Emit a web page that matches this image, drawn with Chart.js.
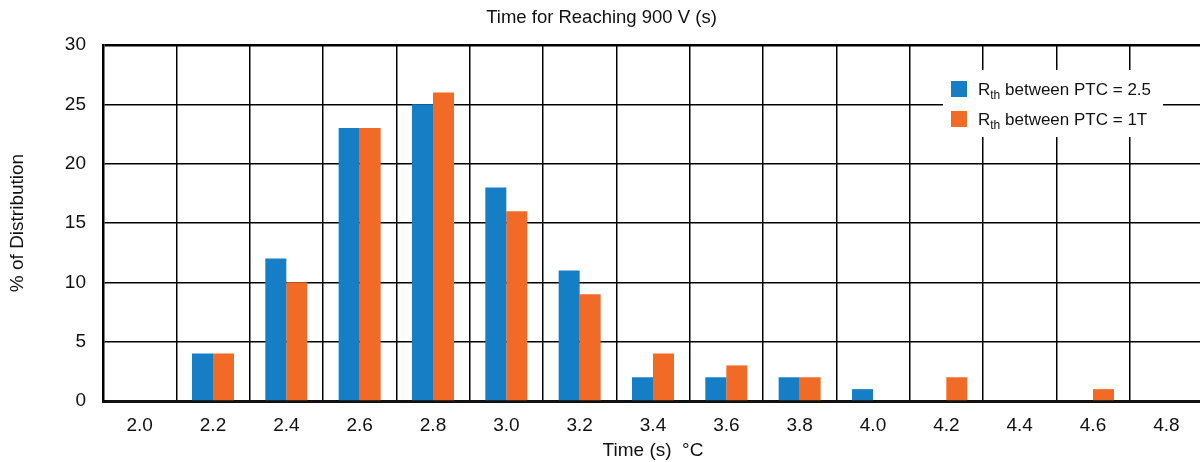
<!DOCTYPE html>
<html>
<head>
<meta charset="utf-8">
<script src="https://cdn.jsdelivr.net/npm/chart.js@4/dist/chart.umd.min.js"></script>
<style>
  html, body { margin: 0; padding: 0; background: #fff; overflow: hidden; }
  #wrap { width: 1205px; height: 462px; position: relative; }
</style>
</head>
<body>
<div id="wrap"><canvas id="c"></canvas></div>
<script>
const categories = ['2.0','2.2','2.4','2.6','2.8','3.0','3.2','3.4','3.6','3.8','4.0','4.2','4.4','4.6','4.8'];
const seriesA = [0, 4, 12, 23, 25, 18, 11, 2, 2, 2, 1, 0, 0, 0, 0];
const seriesB = [0, 4, 10, 23, 26, 16, 9, 4, 3, 2, 0, 2, 0, 1, 0];
const seriesNames = ['Rth between PTC = 2.5', 'Rth between PTC = 1T'];
const legendValues = ['2.5', '1T'];
const yTicks = [0, 5, 10, 15, 20, 25, 30];

const BLUE = '#167ec4';
const ORANGE = '#f16b27';
const FONT = 'Liberation Sans, Arial, Helvetica, sans-serif';

const legendPlugin = {
  id: 'subLegend',
  afterDraw(chart) {
    const ctx = chart.ctx;
    ctx.save();
    ctx.fillStyle = '#fff';
    ctx.fillRect(943, 70, 220, 67);
    const colors = [BLUE, ORANGE];
    for (let i = 0; i < 2; i++) {
      const y = 81 + i * 30;
      ctx.fillStyle = colors[i];
      ctx.fillRect(951, y, 16, 16);
      ctx.fillStyle = '#111';
      ctx.textBaseline = 'alphabetic';
      ctx.font = '17px ' + FONT;
      let x = 978;
      const base = y + 14;
      ctx.fillText('R', x, base);
      x += ctx.measureText('R').width;
      ctx.font = '12px ' + FONT;
      ctx.fillText('th', x, base + 4);
      x += ctx.measureText('th').width;
      ctx.font = '17px ' + FONT;
      ctx.fillText(' between PTC = ' + legendValues[i], x, base);
    }
    ctx.restore();
  }
};

new Chart(document.getElementById('c'), {
  type: 'bar',
  data: {
    labels: categories,
    datasets: [
      { label: seriesNames[0], data: seriesA, backgroundColor: BLUE, barPercentage: 1.0, categoryPercentage: 0.573 },
      { label: seriesNames[1], data: seriesB, backgroundColor: ORANGE, barPercentage: 1.0, categoryPercentage: 0.573 }
    ]
  },
  options: {
    responsive: true,
    maintainAspectRatio: false,
    animation: false,
    layout: { padding: { left: 0, right: 2, top: 0, bottom: 0 } },
    plugins: {
      legend: { display: false },
      tooltip: { enabled: false },
      title: {
        display: true,
        text: 'Time for Reaching 900 V (s)',
        color: '#111',
        font: { family: FONT, size: 18.5, weight: 'normal' },
        padding: { top: 7, bottom: 15.8 }
      }
    },
    scales: {
      x: {
        type: 'category',
        offset: true,
        afterFit(scale) { scale.height = 61; },
        grid: { display: true, offset: true, color: '#000', lineWidth: 1.5, drawTicks: false },
        border: { display: true, color: '#111', width: 3 },
        ticks: { color: '#111', font: { family: FONT, size: 19 }, padding: 13 },
        title: {
          display: true,
          text: 'Time (s)  °C',
          color: '#111',
          font: { family: FONT, size: 19 },
          padding: { top: 4, bottom: 0 }
        }
      },
      y: {
        min: 0,
        max: 30,
        afterBuildTicks(scale) { scale.ticks = yTicks.map(v => ({ value: v })); },
        afterFit(scale) { scale.width = 103; },
        grid: {
          color: '#000',
          lineWidth: (c) => (c.tick && c.tick.value === 30 ? 2.5 : 1.5),
          drawTicks: false
        },
        border: { display: true, color: '#000', width: 2.5 },
        ticks: { color: '#111', font: { family: FONT, size: 19 }, padding: 17 },
        title: {
          display: true,
          text: '% of Distribution',
          color: '#111',
          font: { family: FONT, size: 19 },
          padding: { top: 6, bottom: 0 }
        }
      }
    }
  },
  plugins: [legendPlugin]
});
</script>
</body>
</html>
